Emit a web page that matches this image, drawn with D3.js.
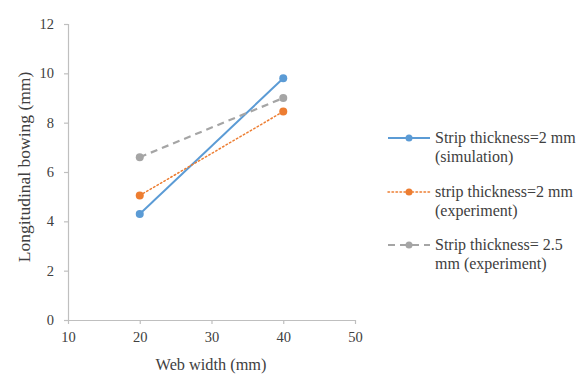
<!DOCTYPE html>
<html>
<head>
<meta charset="utf-8">
<script src="https://cdn.jsdelivr.net/npm/d3@7"></script>
<style>
  html, body { margin: 0; padding: 0; background: #fff; }
  svg { display: block; }
</style>
</head>
<body>
<svg id="chart" width="583" height="381"></svg>
<script>
// Web width (mm) on the x axis
const webWidths = [20, 40];
// Longitudinal bowing (mm) for each case
const simThin = [4.3, 9.8];
const expThin = [5.05, 8.45];
const expThick = [6.6, 9.0];
const seriesNames = [
  ["Strip thickness=2 mm", "(simulation)"],
  ["strip thickness=2 mm", "(experiment)"],
  ["Strip thickness= 2.5", "mm (experiment)"]
];
const xTicks = [10, 20, 30, 40, 50];
const yTicks = [0, 2, 4, 6, 8, 10, 12];

const FONT = "'Liberation Serif'";
const INK = "#404040";
const svg = d3.select("#chart");
const x = d3.scaleLinear().domain([10, 50]).range([68, 355]);
const y = d3.scaleLinear().domain([0, 12]).range([320, 24]);

const series = [
  { values: simThin, color: "#5B9BD5", dash: null, width: 2, cap: "butt" },
  { values: expThin, color: "#ED7D31", dash: "1.5 2.5", width: 1.5, cap: "round" },
  { values: expThick, color: "#A5A5A5", dash: "7 5", width: 2.2, cap: "butt" }
];

function styleText(sel, size) {
  return sel.attr("font-family", null).style("font-family", FONT)
    .style("font-size", size + "px").style("fill", INK);
}

// Axes
const xAxis = svg.append("g").attr("transform", `translate(0,${y(0)})`)
  .call(d3.axisBottom(x).tickValues(xTicks).tickSize(4).tickPadding(8));
const yAxis = svg.append("g").attr("transform", `translate(${x(10)},0)`)
  .call(d3.axisLeft(y).tickValues(yTicks).tickSize(4).tickPadding(10));
[xAxis, yAxis].forEach(a => {
  a.attr("font-family", null).attr("font-size", null);
  a.selectAll("path, line").attr("stroke", "#BFBFBF").attr("stroke-width", 1.2);
  styleText(a.selectAll("text"), 14.5);
});
yAxis.select(".domain").attr("d", `M0.5,${y(12)}V${y(0)}`);
xAxis.select(".domain").attr("d", `M${x(10)},0.5H${x(50)}`);

// Axis titles
styleText(svg.append("text").attr("x", 211).attr("y", 370).attr("text-anchor", "middle"), 16.3)
  .text("Web width (mm)");
styleText(svg.append("text").attr("transform", "translate(30,167) rotate(-90)")
  .attr("text-anchor", "middle"), 17.5)
  .text("Longitudinal bowing (mm)");

// Lines and markers
const line = d3.line().x((d, i) => x(webWidths[i])).y(d => y(d));
series.forEach(s => {
  svg.append("path").datum(s.values).attr("d", line)
    .attr("fill", "none").attr("stroke", s.color).attr("stroke-width", s.width)
    .attr("stroke-dasharray", s.dash).attr("stroke-linecap", s.cap);
  svg.selectAll(null).data(s.values).enter().append("circle")
    .attr("cx", (d, i) => x(webWidths[i])).attr("cy", d => y(d))
    .attr("r", 4).attr("fill", s.color);
});

// Legend
const legendRows = [138, 192, 245];
series.forEach((s, i) => {
  const g = svg.append("g").attr("transform", `translate(0,${legendRows[i]})`);
  g.append("line").attr("x1", 388).attr("x2", 430).attr("y1", 0).attr("y2", 0)
    .attr("stroke", s.color).attr("stroke-width", s.width)
    .attr("stroke-dasharray", s.dash).attr("stroke-linecap", s.cap);
  g.append("circle").attr("cx", 409).attr("cy", 0).attr("r", 3.5).attr("fill", s.color);
  styleText(g.append("text").attr("x", 435).attr("y", 5), 16).text(seriesNames[i][0]);
  styleText(g.append("text").attr("x", 435).attr("y", 24), 16).text(seriesNames[i][1]);
});
</script>
</body>
</html>
